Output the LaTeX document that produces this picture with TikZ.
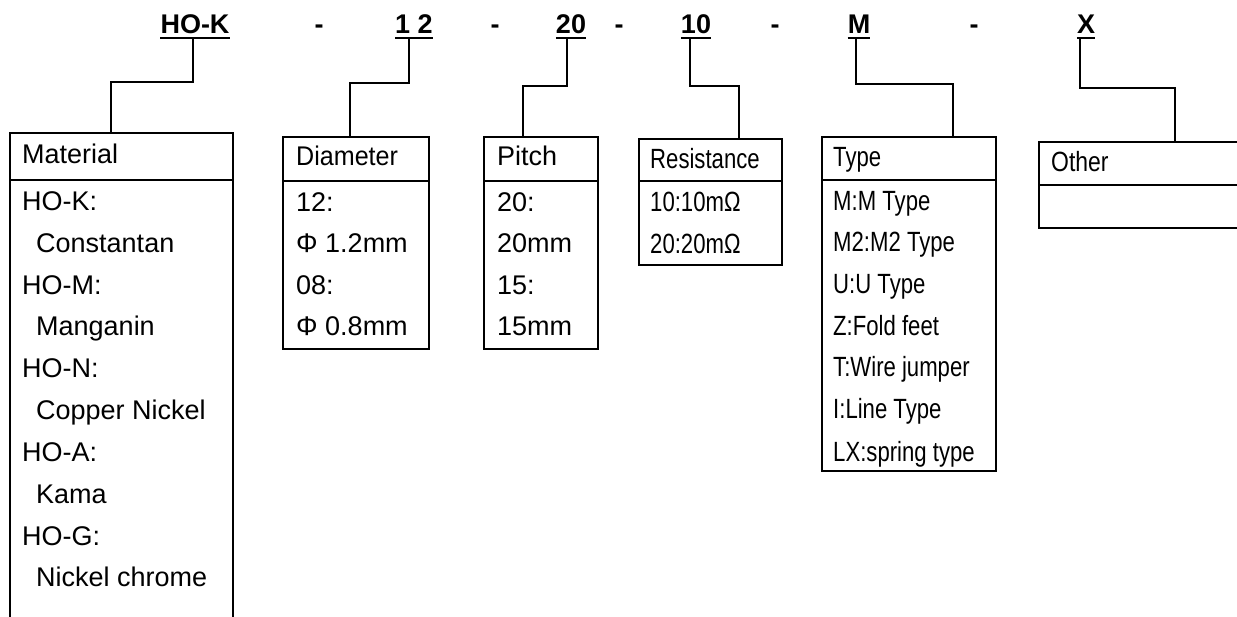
\documentclass[tikz,border=0pt]{standalone}
\usepackage{fontspec}
\setmainfont{Liberation Sans}
\tikzset{
  lbl/.style={font=\fontsize{27}{27}\selectfont\bfseries, inner sep=0pt, anchor=base},
  frame/.style={draw, line width=2pt, inner sep=0pt, anchor=north west},
  txt/.style={font=\fontsize{27}{27}\selectfont, inner sep=0pt, anchor=base west},
  link/.style={line width=1.3pt},
  uline/.style={line width=2pt},
}
\newcommand{\nar}[1]{\scalebox{0.82}[1.03]{#1}}
\begin{document}
\begin{tikzpicture}[x=1pt,y=-1pt]
\useasboundingbox (0,0) rectangle (1237,617);
\clip (0,0) rectangle (1237,617);
% top code
\node[lbl] (hok) at (195,34) {HO-K};
\node[lbl] (d1) at (319,34) {-};
\node[lbl] (dia) at (414,34) {1 2};
\node[lbl] (d2) at (495,34) {-};
\node[lbl] (pit) at (571,34) {20};
\node[lbl] (d3) at (619,34) {-};
\node[lbl] (res) at (696,34) {10};
\node[lbl] (d4) at (775,34) {-};
\node[lbl] (typ) at (859,34) {M};
\node[lbl] (d5) at (974,34) {-};
\node[lbl] (oth) at (1086,34) {X};
\foreach \n in {hok,dia,pit,res,typ,oth}
  \draw[uline] ([yshift=-4pt]\n.base west) -- ([yshift=-4pt]\n.base east);
% boxes
\node[frame, minimum width=223pt, minimum height=47pt] (mathead) at (9,132) {};
\node[frame, minimum width=223pt, minimum height=450pt] (matbody) at (9,179) {};
\node[frame, minimum width=146pt, minimum height=44pt] (diahead) at (282,136) {};
\node[frame, minimum width=146pt, minimum height=168pt] (diabody) at (282,180) {};
\node[frame, minimum width=114pt, minimum height=44pt] (pithead) at (483,136) {};
\node[frame, minimum width=114pt, minimum height=168pt] (pitbody) at (483,180) {};
\node[frame, minimum width=143pt, minimum height=42pt] (reshead) at (638,138) {};
\node[frame, minimum width=143pt, minimum height=84pt] (resbody) at (638,180) {};
\node[frame, minimum width=174pt, minimum height=43pt] (typhead) at (821,136) {};
\node[frame, minimum width=174pt, minimum height=291pt] (typbody) at (821,179) {};
\node[frame, minimum width=212pt, minimum height=43pt] (othhead) at (1038,141) {};
\node[frame, minimum width=212pt, minimum height=43pt] (othbody) at (1038,184) {};
% connectors
\draw[link] ([xshift=-2pt,yshift=-4pt]hok.base) -- ++(0,44) -| ([xshift=-10.5pt]mathead.north);
\draw[link] ([xshift=-5pt,yshift=-4pt]dia.base) -- ++(0,45) -| ([xshift=-6pt]diahead.north);
\draw[link] ([xshift=-4pt,yshift=-4pt]pit.base) -- ++(0,48) -| ([xshift=-18pt]pithead.north);
\draw[link] ([xshift=-6pt,yshift=-4pt]res.base) -- ++(0,48) -| ([xshift=28.5pt]reshead.north);
\draw[link] ([xshift=-3pt,yshift=-4pt]typ.base) -- ++(0,46) -| ([xshift=44pt]typhead.north);
\draw[link] ([xshift=-6pt,yshift=-4pt]oth.base) -- ++(0,50) -| ([xshift=30pt]othhead.north);
% Material
\node[txt] (mt) at (22,164) {Material};
\node[txt] (m1) at (22,211) {HO-K:};
\node[txt] (m2) at (36,253) {Constantan};
\node[txt] (m3) at (22,295) {HO-M:};
\node[txt] (m4) at (36,336) {Manganin};
\node[txt] (m5) at (22,378) {HO-N:};
\node[txt] (m6) at (36,420) {Copper Nickel};
\node[txt] (m7) at (22,461) {HO-A:};
\node[txt] (m8) at (36,503) {Kama};
\node[txt] (m9) at (22,545) {HO-G:};
\node[txt] (m10) at (36,586) {Nickel chrome};
% Diameter
\node[txt] (dt) at (296,166) {\scalebox{0.93}[1]{Diameter}};
\node[txt] (dd1) at (296,212) {12:};
\node[txt] (dd2) at (296,253) {Φ 1.2mm};
\node[txt] (dd3) at (296,295) {08:};
\node[txt] (dd4) at (296,336) {Φ 0.8mm};
% Pitch
\node[txt] (pt) at (497,166) {Pitch};
\node[txt] (p1) at (497,212) {20:};
\node[txt] (p2) at (497,253) {20mm};
\node[txt] (p3) at (497,295) {15:};
\node[txt] (p4) at (497,336) {15mm};
% Resistance
\node[txt] (rt) at (650,169) {\nar{Resistance}};
\node[txt] (r1) at (650,212) {\nar{10:10mΩ}};
\node[txt] (r2) at (650,254) {\nar{20:20mΩ}};
% Type
\node[txt] (tt) at (833,167) {\nar{Type}};
\node[txt] (t1) at (833,211) {\nar{M:M Type}};
\node[txt] (t2) at (833,252) {\nar{M2:M2 Type}};
\node[txt] (t3) at (833,294) {\nar{U:U Type}};
\node[txt] (t4) at (833,336) {\nar{Z:Fold feet}};
\node[txt] (t5) at (833,377) {\nar{T:Wire jumper}};
\node[txt] (t6) at (833,419) {\nar{I:Line Type}};
\node[txt] (t7) at (833,461) {\nar{LX:spring type}};
% Other
\node[txt] (ot) at (1051,172) {\scalebox{0.85}[1.03]{Other}};
\end{tikzpicture}
\end{document}
